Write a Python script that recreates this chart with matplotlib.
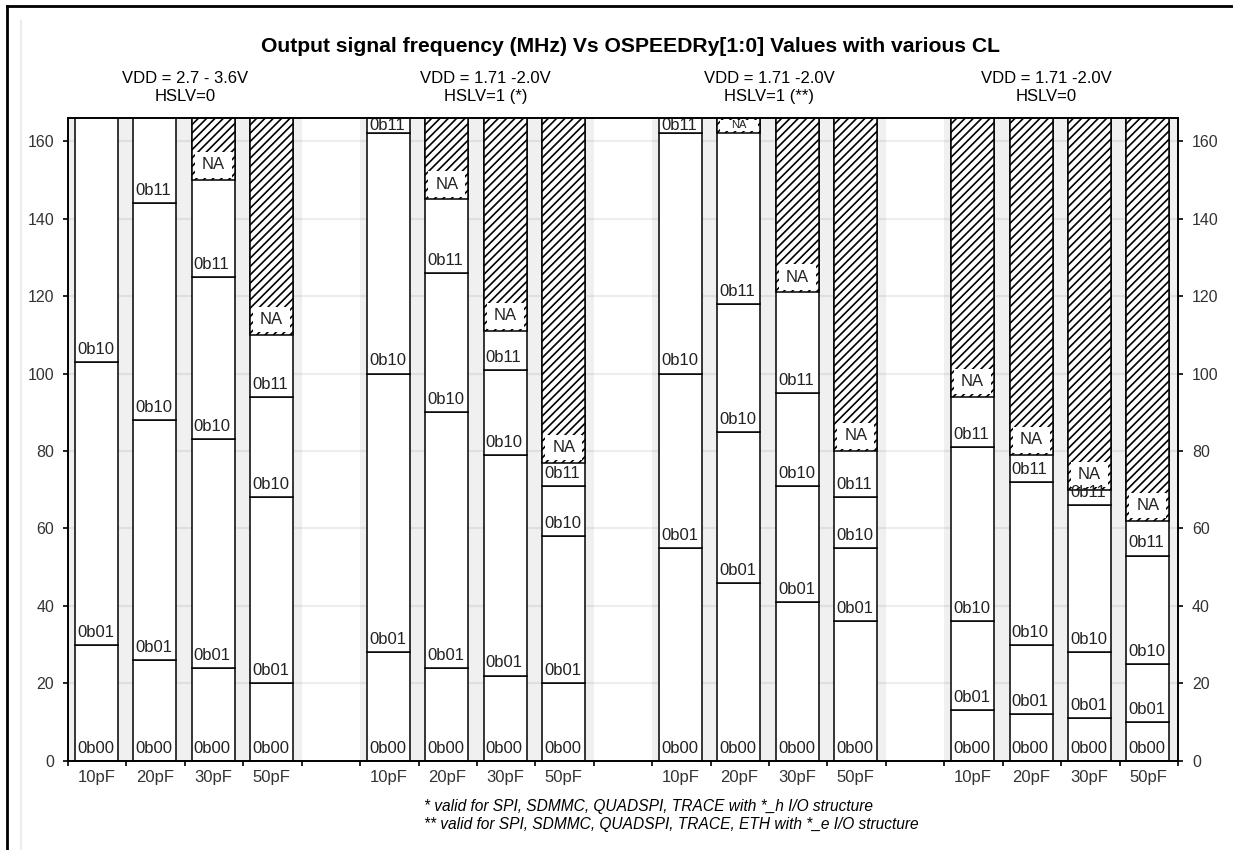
import numpy as np
import matplotlib
matplotlib.use('Agg')
import matplotlib.pyplot as plt
from matplotlib.patches import Rectangle
from matplotlib.lines import Line2D

plt.rcParams['font.family'] = ['Liberation Sans', 'DejaVu Sans']
plt.rcParams['hatch.linewidth'] = 1.2

groups = ['VDD = 2.7 - 3.6V\nHSLV=0', 'VDD = 1.71 -2.0V\nHSLV=1 (*)',
          'VDD = 1.71 -2.0V\nHSLV=1 (**)', 'VDD = 1.71 -2.0V\nHSLV=0']
loads = ['10pF', '20pF', '30pF', '50pF']
levels = ['0b00', '0b01', '0b10', '0b11']

# max frequency (MHz) reached by each OSPEEDR setting, 4 loads per group
max_0b00 = [30, 26, 24, 20, 28, 24, 22, 20, 55, 46, 41, 36, 13, 12, 11, 10]
max_0b01 = [103, 88, 83, 68, 100, 90, 79, 58, 100, 85, 71, 55, 36, 30, 28, 25]
max_0b10 = [np.nan, 144, 125, 94, 162, 126, 101, 71, 162, 118, 95, 68, 81, 72, 66, 53]
max_0b11 = [np.nan, np.nan, 150, 110, np.nan, 145, 111, 77, np.nan, 162, 121, 80, 94, 79, 70, 62]

footnotes = ['* valid for SPI, SDMMC, QUADSPI, TRACE with *_h I/O structure',
             '** valid for SPI, SDMMC, QUADSPI, TRACE, ETH with *_e I/O structure']

ymax = 166
top = 175
width = 0.735

fig = plt.figure(figsize=(12.33, 8.5), dpi=100)
ax = fig.add_axes([68 / 1233, 89.3 / 850, 1110 / 1233, 642.7 / 850])

n_slots = len(groups) * 5 - 1
ax.set_xlim(0, n_slots)
ax.set_ylim(0, ymax)

# grey band behind each group, faint grid
for g in range(len(groups)):
    ax.axvspan(g * 5, g * 5 + 4, color='#f0f0f0', zorder=0, lw=0)
for v in range(20, 170, 20):
    ax.axhline(v, color='k', alpha=0.07, lw=1.6, zorder=0.5)

maxes = np.array([max_0b00, max_0b01, max_0b10, max_0b11], dtype=float)
centers = []
for g in range(len(groups)):
    for j in range(len(loads)):
        i = g * 4 + j
        xc = g * 5 + j + 0.485
        centers.append(xc)
        xl = xc - width / 2
        start = 0.0
        for k in range(4):
            end = maxes[k, i]
            if k == 3 or np.isnan(end):
                end = top
            ax.bar(xc, end - start, bottom=start, width=width, color='white',
                   edgecolor='black', lw=1.1, zorder=2)
            if end == top and ymax - start < 6:
                fs, off = 12, 0.2
            elif end - start < 6:
                fs, off = 9.5, 0.3
            else:
                fs, off = 12, 1.3
            ax.text(xl + 0.035, start + off, levels[k], ha='left', va='bottom',
                    fontsize=fs, color='#222222', zorder=4, clip_on=True)
            if end == top:
                break
            start = end
        na = maxes[3, i]
        if not np.isnan(na):
            ax.bar(xc, top - na, bottom=na, width=width, color='white',
                   edgecolor='black', hatch='////', lw=1.1, zorder=2)
            h = min(6.6, ymax - na - 1.0)
            ax.add_patch(Rectangle((xl + 0.05, na + 0.6), width - 0.1, h,
                                   facecolor='white', edgecolor='none', zorder=3))
            ax.text(xc, na + 0.6 + h / 2, 'NA', ha='center', va='center',
                    fontsize=12 if h > 5 else 8, color='#222222', zorder=4)

# axes cosmetics
for s in ax.spines.values():
    s.set_linewidth(1.4)
    s.set_zorder(5)
ax.set_xticks(np.arange(n_slots + 1))
ax.set_xticklabels([])
ax.set_xticks(centers, minor=True)
ax.set_xticklabels(loads * len(groups), minor=True)
ax.tick_params(axis='x', which='major', direction='out', length=3.5, width=1.2)
ax.tick_params(axis='x', which='minor', length=0, pad=7, labelsize=12,
               labelcolor='#333333')
ax.set_yticks(np.arange(0, 161, 20))
ax.tick_params(axis='y', direction='out', length=3.5, width=1.2, pad=6.5,
               left=True, right=True, labelleft=True, labelright=True,
               labelsize=11.5, labelcolor='#333333')

header_x = [2.0, 7.15, 12.0, 16.75]
for g in range(len(groups)):
    ax.text(header_x[g], 1.047, groups[g], transform=ax.get_xaxis_transform(),
            ha='center', va='center', fontsize=12, linespacing=1.25)

fig.text(0.511, 1 - 47 / 850,
         'Output signal frequency (MHz) Vs OSPEEDRy[1:0] Values with various CL',
         ha='center', va='center', fontsize=15.2, weight='bold')
fig.text(424 / 1233, 1 - 807 / 850, footnotes[0], ha='left', va='center',
         fontsize=11.2, style='italic')
fig.text(424 / 1233, 1 - 825 / 850, footnotes[1], ha='left', va='center',
         fontsize=11.2, style='italic')

# page frame
fig.add_artist(Line2D([7 / 1233, 1], [1 - 6 / 850, 1 - 6 / 850],
                      transform=fig.transFigure, color='black', lw=2))
fig.add_artist(Line2D([7 / 1233, 7 / 1233], [0, 1 - 6 / 850],
                      transform=fig.transFigure, color='black', lw=2))
fig.add_artist(Line2D([21 / 1233, 21 / 1233], [0, 1 - 21 / 850],
                      transform=fig.transFigure, color='#ececec', lw=1.5))

plt.savefig('out.png', dpi=100)
